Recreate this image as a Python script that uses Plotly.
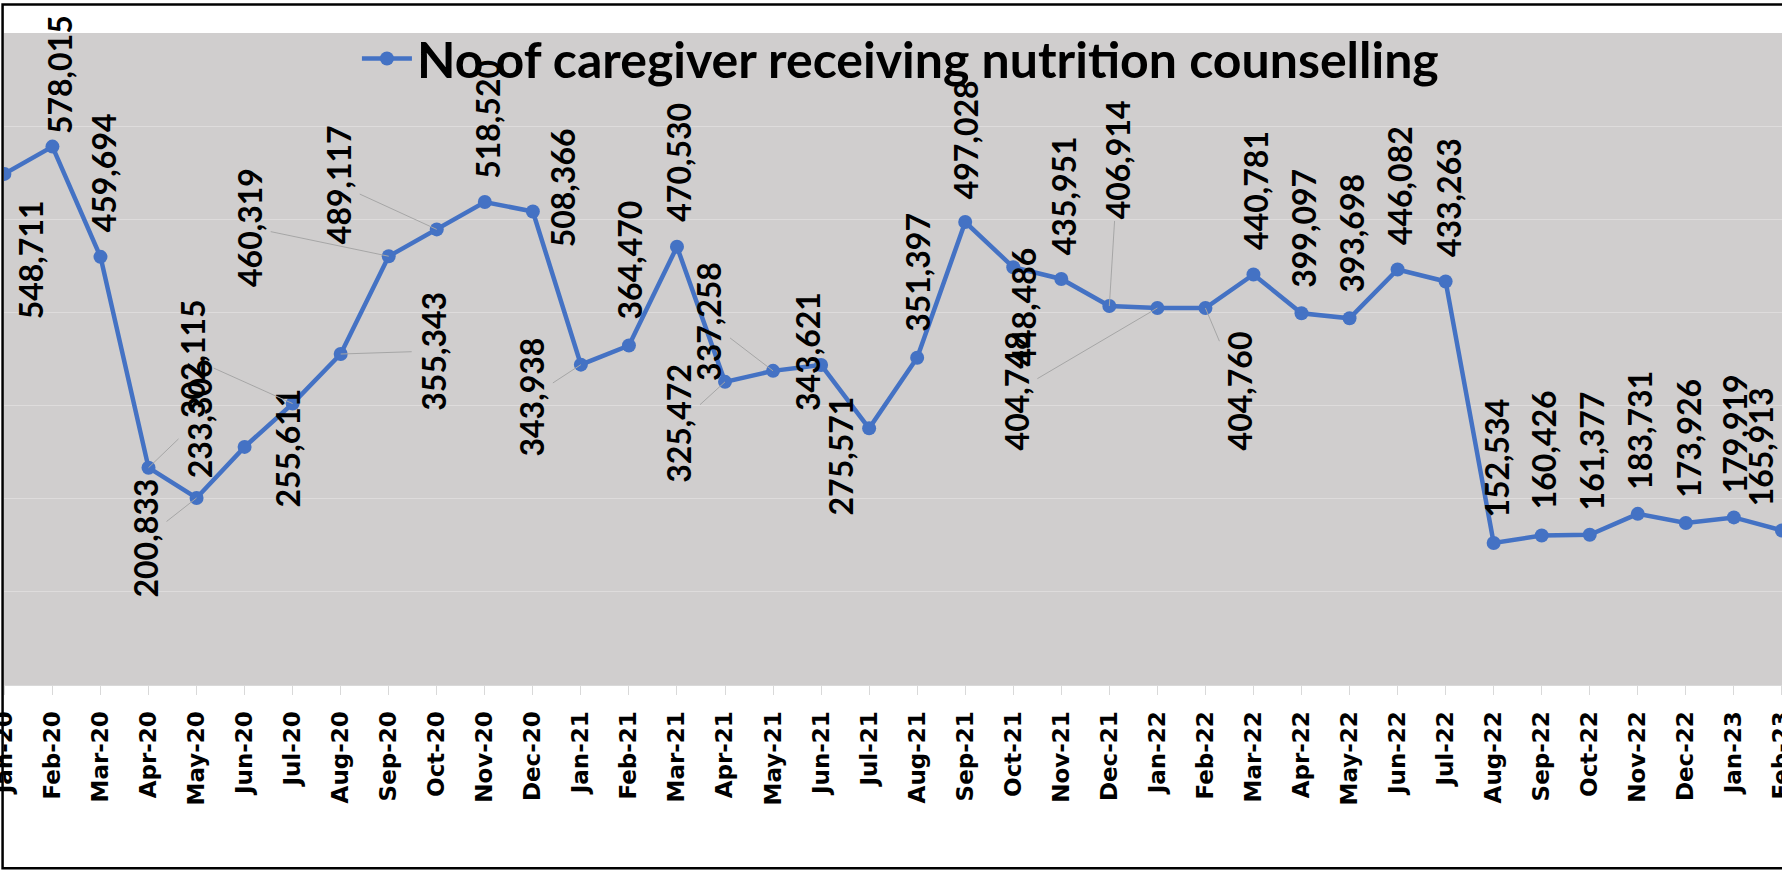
import plotly.graph_objects as go

# monthly counts
months = ["Jan-20", "Feb-20", "Mar-20", "Apr-20", "May-20", "Jun-20", "Jul-20", "Aug-20",
          "Sep-20", "Oct-20", "Nov-20", "Dec-20", "Jan-21", "Feb-21", "Mar-21", "Apr-21",
          "May-21", "Jun-21", "Jul-21", "Aug-21", "Sep-21", "Oct-21", "Nov-21", "Dec-21",
          "Jan-22", "Feb-22", "Mar-22", "Apr-22", "May-22", "Jun-22", "Jul-22", "Aug-22",
          "Sep-22", "Oct-22", "Nov-22", "Dec-22", "Jan-23", "Feb-23"]
caregivers = [548711, 578015, 459694, 233306, 200833, 255611, 302115, 355343,
              460319, 489117, 518520, 508366, 343938, 364470, 470530, 325472,
              337258, 343621, 275571, 351397, 497028, 448486, 435951, 406914,
              404748, 404760, 440781, 399097, 393698, 446082, 433263, 152534,
              160426, 161377, 183731, 173926, 179919, 165913]
series_name = "No of caregiver receiving nutrition counselling"

# where each data label sits relative to its point (px right, px down), and whether it has a leader line
label_place = [(27, 86, 0), (7, -72, 0), (3, -84, 0), (51, -49, 1), (-51, 40, 1), (43, 1, 0),
               (-100, -45, 1), (92, -3, 1), (-139, -29, 1), (-98, -45, 1), (2, -83, 0), (30, -24, 0),
               (-49, 32, 1), (1, -86, 0), (2, -85, 0), (-46, 42, 1), (-64, -49, 1), (-13, -13, 0),
               (-29, 28, 0), (1, -85, 0), (0, -82, 0), (10, 40, 0), (3, -83, 0), (9, -146, 1),
               (-141, 83, 1), (35, 83, 1), (2, -84, 0), (2, -85, 0), (2, -85, 0), (2, -84, 0),
               (3, -84, 0), (3, -85, 0), (2, -86, 0), (2, -84, 0), (2, -84, 0), (2, -85, 0),
               (1, -84, 0), (-21, -84, 0)]

BLUE = "#4472c4"
LABEL_FONT = dict(family="Lato, sans-serif", size=32, color="black", weight="bold")

fig = go.Figure()
fig.add_trace(go.Scatter(
    x=months, y=caregivers, mode="lines+markers", name=series_name,
    line=dict(color=BLUE, width=4.5), marker=dict(color=BLUE, size=14),
))

annotations = []
for m, v, (dx, dy, leader) in zip(months, caregivers, label_place):
    ann = dict(x=m, y=v, xref="x", yref="y", text=f"{v:,}", textangle=-90,
               font=LABEL_FONT, xanchor="center", yanchor="middle")
    if leader:
        ann.update(showarrow=True, arrowhead=0, arrowwidth=1, arrowcolor="#a6a6a6",
                   ax=dx, ay=dy, standoff=0)
    else:
        ann.update(showarrow=False, xshift=dx, yshift=-dy)
    annotations.append(ann)

fig.update_layout(
    width=1782, height=872,
    margin=dict(l=4, r=0, t=33, b=187),
    paper_bgcolor="white", plot_bgcolor="#d0cece",
    annotations=annotations,
    showlegend=True,
    legend=dict(x=0.1985, y=0.961, xanchor="left", yanchor="middle", bgcolor="rgba(0,0,0,0)",
                font=dict(family="Lato, sans-serif", size=50, color="black", weight="bold"),
                itemwidth=50),
    shapes=[dict(type="rect", xref="paper", yref="paper", x0=-0.0008, x1=1.02, y0=-0.2812, y1=1.0437,
                 line=dict(color="black", width=2.5), layer="above")],
)
fig.update_xaxes(
    type="category", range=[-0.0083, 37.002], automargin=False,
    tickmode="array", tickvals=months, ticktext=months, tickangle=-90,
    tickfont=dict(family="DejaVu Sans", size=23, color="black", weight="bold"),
    ticks="outside", ticklen=9, tickcolor="#d9d9d9", ticklabelstandoff=7,
    showline=True, linecolor="#d9d9d9", linewidth=1, showgrid=False, zeroline=False,
)
fig.update_yaxes(
    range=[0, 700000], dtick=100000, showticklabels=False, automargin=False,
    showgrid=True, gridcolor="#dedcdc", gridwidth=1, zeroline=False,
)

# the page body has a default 8px margin; drop it so the figure fills the window
fig.write_html("out.html", config={"displayModeBar": False},
               post_script="document.body.style.margin='0';")
